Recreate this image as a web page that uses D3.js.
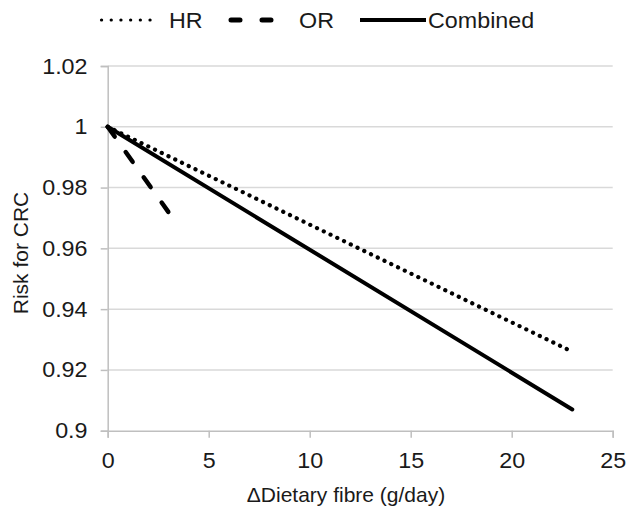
<!DOCTYPE html>
<html><head><meta charset="utf-8">
<script src="https://cdn.jsdelivr.net/npm/d3@7"></script>
<style>body{margin:0;background:#fff;}svg{display:block;font-family:"Liberation Sans",Arial,sans-serif;}</style>
</head><body>
<svg id="chart" width="627" height="509"></svg>
<script>
const seriesNames = ["HR", "OR", "Combined"];
const hrX = [0, 23];
const hrY = [1, 0.926];
const orX = [0, 3];
const orY = [1, 0.972];
const combX = [0, 23];
const combY = [1, 0.907];
const xTicks = [0, 5, 10, 15, 20, 25];
const yTicks = [0.9, 0.92, 0.94, 0.96, 0.98, 1, 1.02];
const yTickLabels = ["0.9", "0.92", "0.94", "0.96", "0.98", "1", "1.02"];

const FS = 22, SX = 1.06, TXT = "#1a1a1a";
const svg = d3.select("#chart");
const x = d3.scaleLinear().domain([0, 25]).range([107.7, 612.7]);
const y = d3.scaleLinear().domain([0.9, 1.02]).range([430.7, 66]);

// gridlines
svg.append("g").selectAll("line").data(yTicks.filter(d => d > 0.9)).join("line")
  .attr("x1", x(0)).attr("x2", x(25))
  .attr("y1", d => y(d)).attr("y2", d => y(d))
  .attr("stroke", "#d9d9d9").attr("stroke-width", 1.5);

// x axis
const xAxis = d3.axisBottom(x).tickValues(xTicks).tickSize(7).tickPadding(15).tickFormat(d3.format("d"));
const gx = svg.append("g").attr("transform", `translate(0,${y(0.9)})`).call(xAxis);
gx.select(".domain").attr("stroke", "#bfbfbf").attr("stroke-width", 1.5);
gx.selectAll(".tick line").attr("stroke", "#bfbfbf").attr("stroke-width", 1.5);
gx.selectAll("text").attr("font-size", FS).attr("fill", TXT).attr("font-family", "Liberation Sans, Arial, sans-serif")
  .attr("transform", `scale(${SX},1)`);

// y axis
const yAxis = d3.axisLeft(y).tickValues(yTicks).tickSize(7).tickPadding(12).tickFormat((d, i) => yTickLabels[i]);
const gy = svg.append("g").attr("transform", `translate(${x(0)},0)`).call(yAxis);
gy.select(".domain").attr("stroke", "#bfbfbf").attr("stroke-width", 1.5);
gy.selectAll(".tick line").attr("stroke", "#bfbfbf").attr("stroke-width", 1.5);
gy.selectAll("text").attr("font-size", FS).attr("fill", TXT).attr("font-family", "Liberation Sans, Arial, sans-serif")
  .attr("transform", `scale(${SX},1)`);

// axis titles
svg.append("text").attr("transform", `translate(346,502)`).attr("text-anchor", "middle")
  .attr("font-size", 21).attr("fill", TXT).text("\u0394Dietary fibre (g/day)");
svg.append("text").attr("transform", `translate(28,253) rotate(-90)`).attr("text-anchor", "middle")
  .attr("font-size", 21).attr("fill", TXT).text("Risk for CRC");

// lines
const line = d3.line().x(d => x(d[0])).y(d => y(d[1]));
const styles = [
  {dash: "0.1 7.4", cap: "round", w: 4.2},
  {dash: "12 19", cap: "round", w: 4.5},
  {dash: null, cap: "round", w: 4}
];
const data = [d3.zip(hrX, hrY), d3.zip(orX, orY), d3.zip(combX, combY)];
data.forEach((pts, i) => {
  svg.append("path").attr("d", line(pts)).attr("fill", "none").attr("stroke", "#000")
    .attr("stroke-width", styles[i].w).attr("stroke-linecap", styles[i].cap)
    .attr("stroke-dasharray", styles[i].dash);
});

// legend
const legendItems = [
  {x1: 101.5, x2: 158, tx: 169, dash: "0.1 9.6", w: 3.2, cap: "round"},
  {x1: 231, x2: 273, tx: 299, dash: "9 22", w: 5, cap: "round"},
  {x1: 360, x2: 426, tx: 428, dash: null, w: 4, cap: "butt"}
];
const ly = 20;
legendItems.forEach((it, i) => {
  svg.append("line").attr("x1", it.x1).attr("x2", it.x2).attr("y1", ly).attr("y2", ly)
    .attr("stroke", "#000").attr("stroke-width", it.w).attr("stroke-linecap", it.cap)
    .attr("stroke-dasharray", it.dash);
  svg.append("text").attr("transform", `translate(${it.tx},27.5) scale(${SX},1)`).attr("font-size", FS).attr("fill", TXT)
    .text(seriesNames[i]);
});
</script>
</body></html>
